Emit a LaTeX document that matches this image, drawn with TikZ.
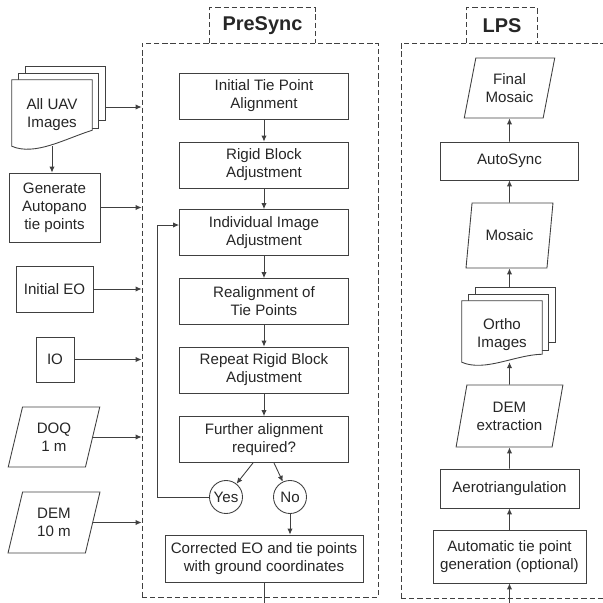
\documentclass[tikz,border=0pt]{standalone}
\usepackage{fontspec}
\setmainfont{Liberation Sans}
\usetikzlibrary{positioning,arrows.meta,calc,shapes.geometric}

\begin{document}
\begin{tikzpicture}[
    every node/.style={inner sep=2pt, align=center, text=black!85,
        font=\fontsize{12.9}{15.3}\selectfont},
    boxline/.style={draw=black!75, line width=0.75pt},
    box/.style={boxline, rectangle, minimum width=5.07cm, minimum height=1.38cm},
    datain/.style={boxline, trapezium, trapezium left angle=75,
        trapezium right angle=105, trapezium stretches=true},
    answer/.style={boxline, circle, minimum size=0.99cm, inner sep=0pt},
    dashbox/.style={draw=black!75, line width=0.75pt, dash pattern=on 4.5pt off 2.5pt},
    stagename/.style={font=\fontsize{17}{20}\selectfont\bfseries,
        minimum height=1.05cm},
    >={Latex[length=5pt,width=4.5pt]}
]
\useasboundingbox (0,0) rectangle (18.09,-18.09);
\clip (0,0) rectangle (18.09,-18.09);

% Marcos de las etapas
\node[dashbox, minimum width=7.08cm, minimum height=16.62cm] (presync) at (7.8,-9.6) {};
\node[dashbox, minimum width=7.17cm, minimum height=16.65cm] (lps) at (15.615,-9.615) {};
\node[stagename, minimum width=3.15cm] (presynctitle) at (7.875,-0.765) {PreSync};
\node[stagename, minimum width=2.1cm] (lpstitle) at (15.06,-0.765) {LPS};
\foreach \t in {presynctitle,lpstitle}
    \draw[dashbox] (\t.south west) |- (\t.north east) -- (\t.south east);

% Entradas (columna izquierda)
\node[minimum width=2.4cm, minimum height=1.98cm] (uav) at (1.56,-3.39) {};
\node[box, minimum width=2.73cm, minimum height=2.07cm] (autopano) at (1.635,-6.225)
    {Generate\\Autopano\\tie points};
\node[box, minimum width=2.31cm] (initeo) at (1.635,-8.67) {Initial EO};
\node[box, minimum width=1.14cm, minimum height=1.35cm] (io) at (1.65,-10.785) {IO};
\node[datain, minimum width=2.76cm, minimum height=1.8cm] (doq) at (1.62,-13.11) {DOQ\\1 m};
\node[datain, minimum width=2.76cm, minimum height=1.83cm] (dem) at (1.62,-15.675) {DEM\\10 m};

% PreSync
\node[box] (initalign) at (7.92,-2.88) {Initial Tie Point\\Alignment};
\node[box] (rigid) at (7.92,-4.95) {Rigid Block\\Adjustment};
\node[box] (indiv) at (7.92,-6.975) {Individual Image\\Adjustment};
\node[box] (realign) at (7.92,-9.045) {Realignment of\\Tie Points};
\node[box] (rerigid) at (7.92,-11.1) {Repeat Rigid Block\\Adjustment};
\node[box] (further) at (7.92,-13.185) {Further alignment\\required?};
\node[answer] (yes) at (6.78,-14.91) {Yes};
\node[answer] (no) at (8.7,-14.91) {No};
\node[box, minimum width=5.94cm, minimum height=1.41cm] (corrected) at (7.92,-16.755)
    {Corrected EO and tie points\\with ground coordinates};

% LPS
\node[datain, minimum width=2.73cm, minimum height=1.8cm] (final) at (15.285,-2.64) {Final\\Mosaic};
\node[box, minimum width=4.14cm, minimum height=1.14cm] (autosync) at (15.285,-4.83) {AutoSync};
\node[datain, minimum width=2.61cm, minimum height=1.95cm] (mosaic) at (15.285,-7.065) {Mosaic};
\node[minimum width=2.4cm, minimum height=1.83cm] (ortho) at (15.06,-9.945) {};
\node[datain, minimum width=3.21cm, minimum height=1.86cm] (demx) at (15.285,-12.48) {DEM\\extraction};
\node[box, minimum width=4.17cm, minimum height=1.17cm] (aero) at (15.285,-14.655) {Aerotriangulation};
\node[box, minimum width=4.59cm, minimum height=1.59cm] (autotie) at (15.285,-16.695)
    {Automatic tie point\\generation (optional)};

% Hojas apiladas
\foreach \n/\r/\a/\b in {uav/0.48/0.54/0.78, ortho/0.24/0.36/0.6} {
    \draw[boxline, fill=white] ($(\n.south west)+(0.4,\b)$) rectangle ($(\n.north east)+(0.4,0.4)$);
    \draw[boxline, fill=white] ($(\n.south west)+(0.2,\a)$) rectangle ($(\n.north east)+(0.2,0.2)$);
    \draw[boxline, fill=white] (\n.south west) -- (\n.north west) -- (\n.north east)
        -- ($(\n.south east)+(0,\r)$)
        .. controls ($(\n.south east)+(-0.81,0.225)$) and ($(\n.south west)+(0.69,-0.3)$)
        .. (\n.south west) -- cycle;
}
\node (uavtext) at ([yshift=-0.06cm]uav.center) {All UAV\\Images};
\node (orthotext) at ([yshift=-0.09cm]ortho.center) {Ortho\\Images};

% Flechas hacia PreSync
\draw[boxline, ->] ($(uav.east)+(0.4,0.18)$) -- ($(uav.east -| presync.west)+(0,0.18)$);
\draw[boxline, ->] (uav.south) -- (uav.south |- autopano.north);
\foreach \n in {autopano,initeo,io,doq,dem}
    \draw[boxline, ->] (\n.east) -- (\n.east -| presync.west);

% Flechas de PreSync
\foreach \a/\b in {initalign/rigid, rigid/indiv, indiv/realign, realign/rerigid, rerigid/further}
    \draw[boxline, ->] (\a) -- (\b);
\draw[boxline, ->] ([xshift=-0.33cm]further.south) -- (yes);
\draw[boxline, ->] ([xshift=0.3cm]further.south) -- (no);
\draw[boxline, ->] (no) -- (no |- corrected.north);
\coordinate (back) at (4.71,-14.91);
\draw[boxline, ->] (yes) -- (back) |- ([yshift=0.225cm]indiv.west);

% Flechas de LPS
\foreach \a/\b in {autotie/aero, aero/demx, mosaic/autosync, autosync/final}
    \draw[boxline, ->] (\a) -- (\b);
\draw[boxline, ->] (demx) -- (demx |- ortho.south);
\draw[boxline, ->] ($(demx |- ortho.north)+(0,0.42)$) -- (mosaic);

% Salida y entrada por el borde inferior
\coordinate (bottom) at (0,-18.09);
\draw[boxline] (corrected) -- (corrected |- bottom);
\draw[boxline, ->] (autotie |- bottom) -- (autotie);

\end{tikzpicture}
\end{document}
